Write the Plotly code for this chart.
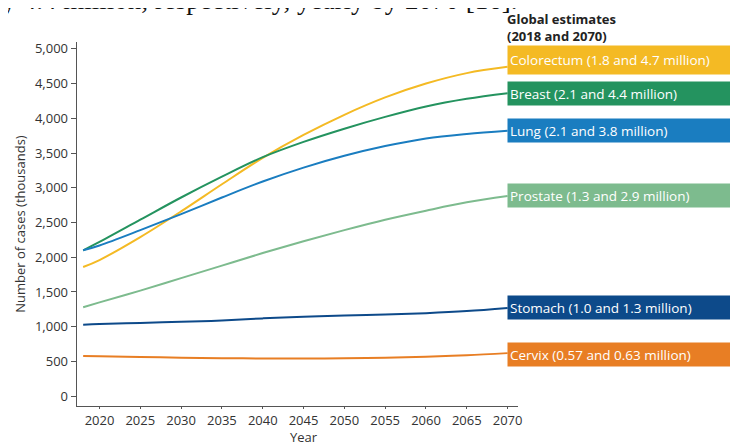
import plotly.graph_objects as go

years = [2018, 2020, 2025, 2030, 2035, 2040, 2045, 2050, 2055, 2060, 2065, 2070]
colorectum = [1860, 1960, 2290, 2660, 3050, 3430, 3760, 4050, 4300, 4500, 4650, 4740]
breast = [2100, 2220, 2540, 2860, 3160, 3440, 3660, 3850, 4020, 4170, 4280, 4360]
lung = [2100, 2170, 2390, 2620, 2860, 3090, 3290, 3460, 3600, 3710, 3775, 3820]
prostate = [1280, 1350, 1520, 1700, 1880, 2060, 2230, 2390, 2540, 2670, 2790, 2880]
stomach = [1030, 1040, 1055, 1070, 1090, 1120, 1145, 1160, 1175, 1195, 1225, 1270]
cervix = [580, 575, 565, 555, 548, 543, 542, 545, 555, 568, 590, 620]

names = ["Colorectum", "Breast", "Lung", "Prostate", "Stomach", "Cervix"]
labels = ["Colorectum (1.8 and 4.7 million)", "Breast (2.1 and 4.4 million)",
          "Lung (2.1 and 3.8 million)", "Prostate (1.3 and 2.9 million)",
          "Stomach (1.0 and 1.3 million)", "Cervix (0.57 and 0.63 million)"]
series = [colorectum, breast, lung, prostate, stomach, cervix]
colors = ["#F4BA24", "#24935F", "#1A7DC0", "#7DBB8E", "#0D4A8A", "#E87E24"]
label_offsets = [95, 0, 0, 15, 8, -25]
label_heights = [24, 19, 19, 19, 19, 19]

x_ticks = [2020, 2025, 2030, 2035, 2040, 2045, 2050, 2055, 2060, 2065, 2070]
y_ticks = [0, 500, 1000, 1500, 2000, 2500, 3000, 3500, 4000, 4500, 5000]

W, H = 738, 445
D = 8  # page body margin offset
fig = go.Figure()
for n, s, c in zip(names, series, colors):
    fig.add_trace(go.Scatter(x=years, y=s, mode="lines", name=n,
                             line=dict(color=c, width=2, shape="spline", smoothing=1.0),
                             showlegend=False))

for lab, s, c, off, h in zip(labels, series, colors, label_offsets, label_heights):
    fig.add_annotation(x=(510 - D) / W, xref="paper", y=s[-1] + off, yref="y",
                       text=lab, showarrow=False, xanchor="left", yanchor="middle",
                       align="left", bgcolor=c, width=250, height=h, borderpad=2,
                       font=dict(family="Open Sans", size=13.5, color="white"))

fig.add_annotation(x=(509 - D) / W, xref="paper", y=1 - (17 - D) / H, yref="paper",
                   text="<b>Global estimates</b>", showarrow=False,
                   xanchor="left", yanchor="middle", align="left", borderpad=0,
                   font=dict(family="Open Sans", size=13, color="#222"))
fig.add_annotation(x=(509 - D) / W, xref="paper", y=1 - (34 - D) / H, yref="paper",
                   text="<b>(2018 and 2070)</b>", showarrow=False,
                   xanchor="left", yanchor="middle", align="left", borderpad=0,
                   font=dict(family="Open Sans", size=13, color="#222"))

# cropped body text line at the top
fig.add_annotation(x=(522 - D) / W, xref="paper", y=1 + 27 / H, yref="paper",
                   text="by 4.4 million, respectively, yearly by 2070 [16].",
                   showarrow=False, xanchor="right", yanchor="top",
                   font=dict(family="Liberation Serif", size=27, color="#111"))

# x-axis title
fig.add_annotation(x=2045, xref="x", y=1 - (437 - D) / H, yref="paper",
                   text="Year", showarrow=False, xanchor="center", yanchor="middle",
                   borderpad=0,
                   font=dict(family="Open Sans", size=13, color="#333"))

fig.update_layout(
    width=W, height=H, margin=dict(l=0, r=0, t=0, b=0),
    paper_bgcolor="white", plot_bgcolor="white",
    font=dict(family="Open Sans", size=13, color="#333"),
    xaxis=dict(domain=[(77 - D) / W, (521 - D) / W], range=[2017.2, 2071.3], tickvals=x_ticks,
               showline=True, linecolor="#555", linewidth=1, ticks="outside",
               ticklen=2, tickcolor="#555", showgrid=False, zeroline=False,
               tickfont=dict(size=13)),
    yaxis=dict(domain=[1 - (406 - D) / H, 1 - (40 - D) / H], range=[-144, 5100], tickvals=y_ticks,
               tickformat=",", showline=True, linecolor="#555", linewidth=1,
               ticks="outside", ticklen=5, tickcolor="#555", showgrid=False,
               zeroline=False,
               title=dict(text="Number of cases (thousands)", standoff=6, font=dict(size=13)),
               tickfont=dict(size=13)),
)

fig.write_html("out.html")
